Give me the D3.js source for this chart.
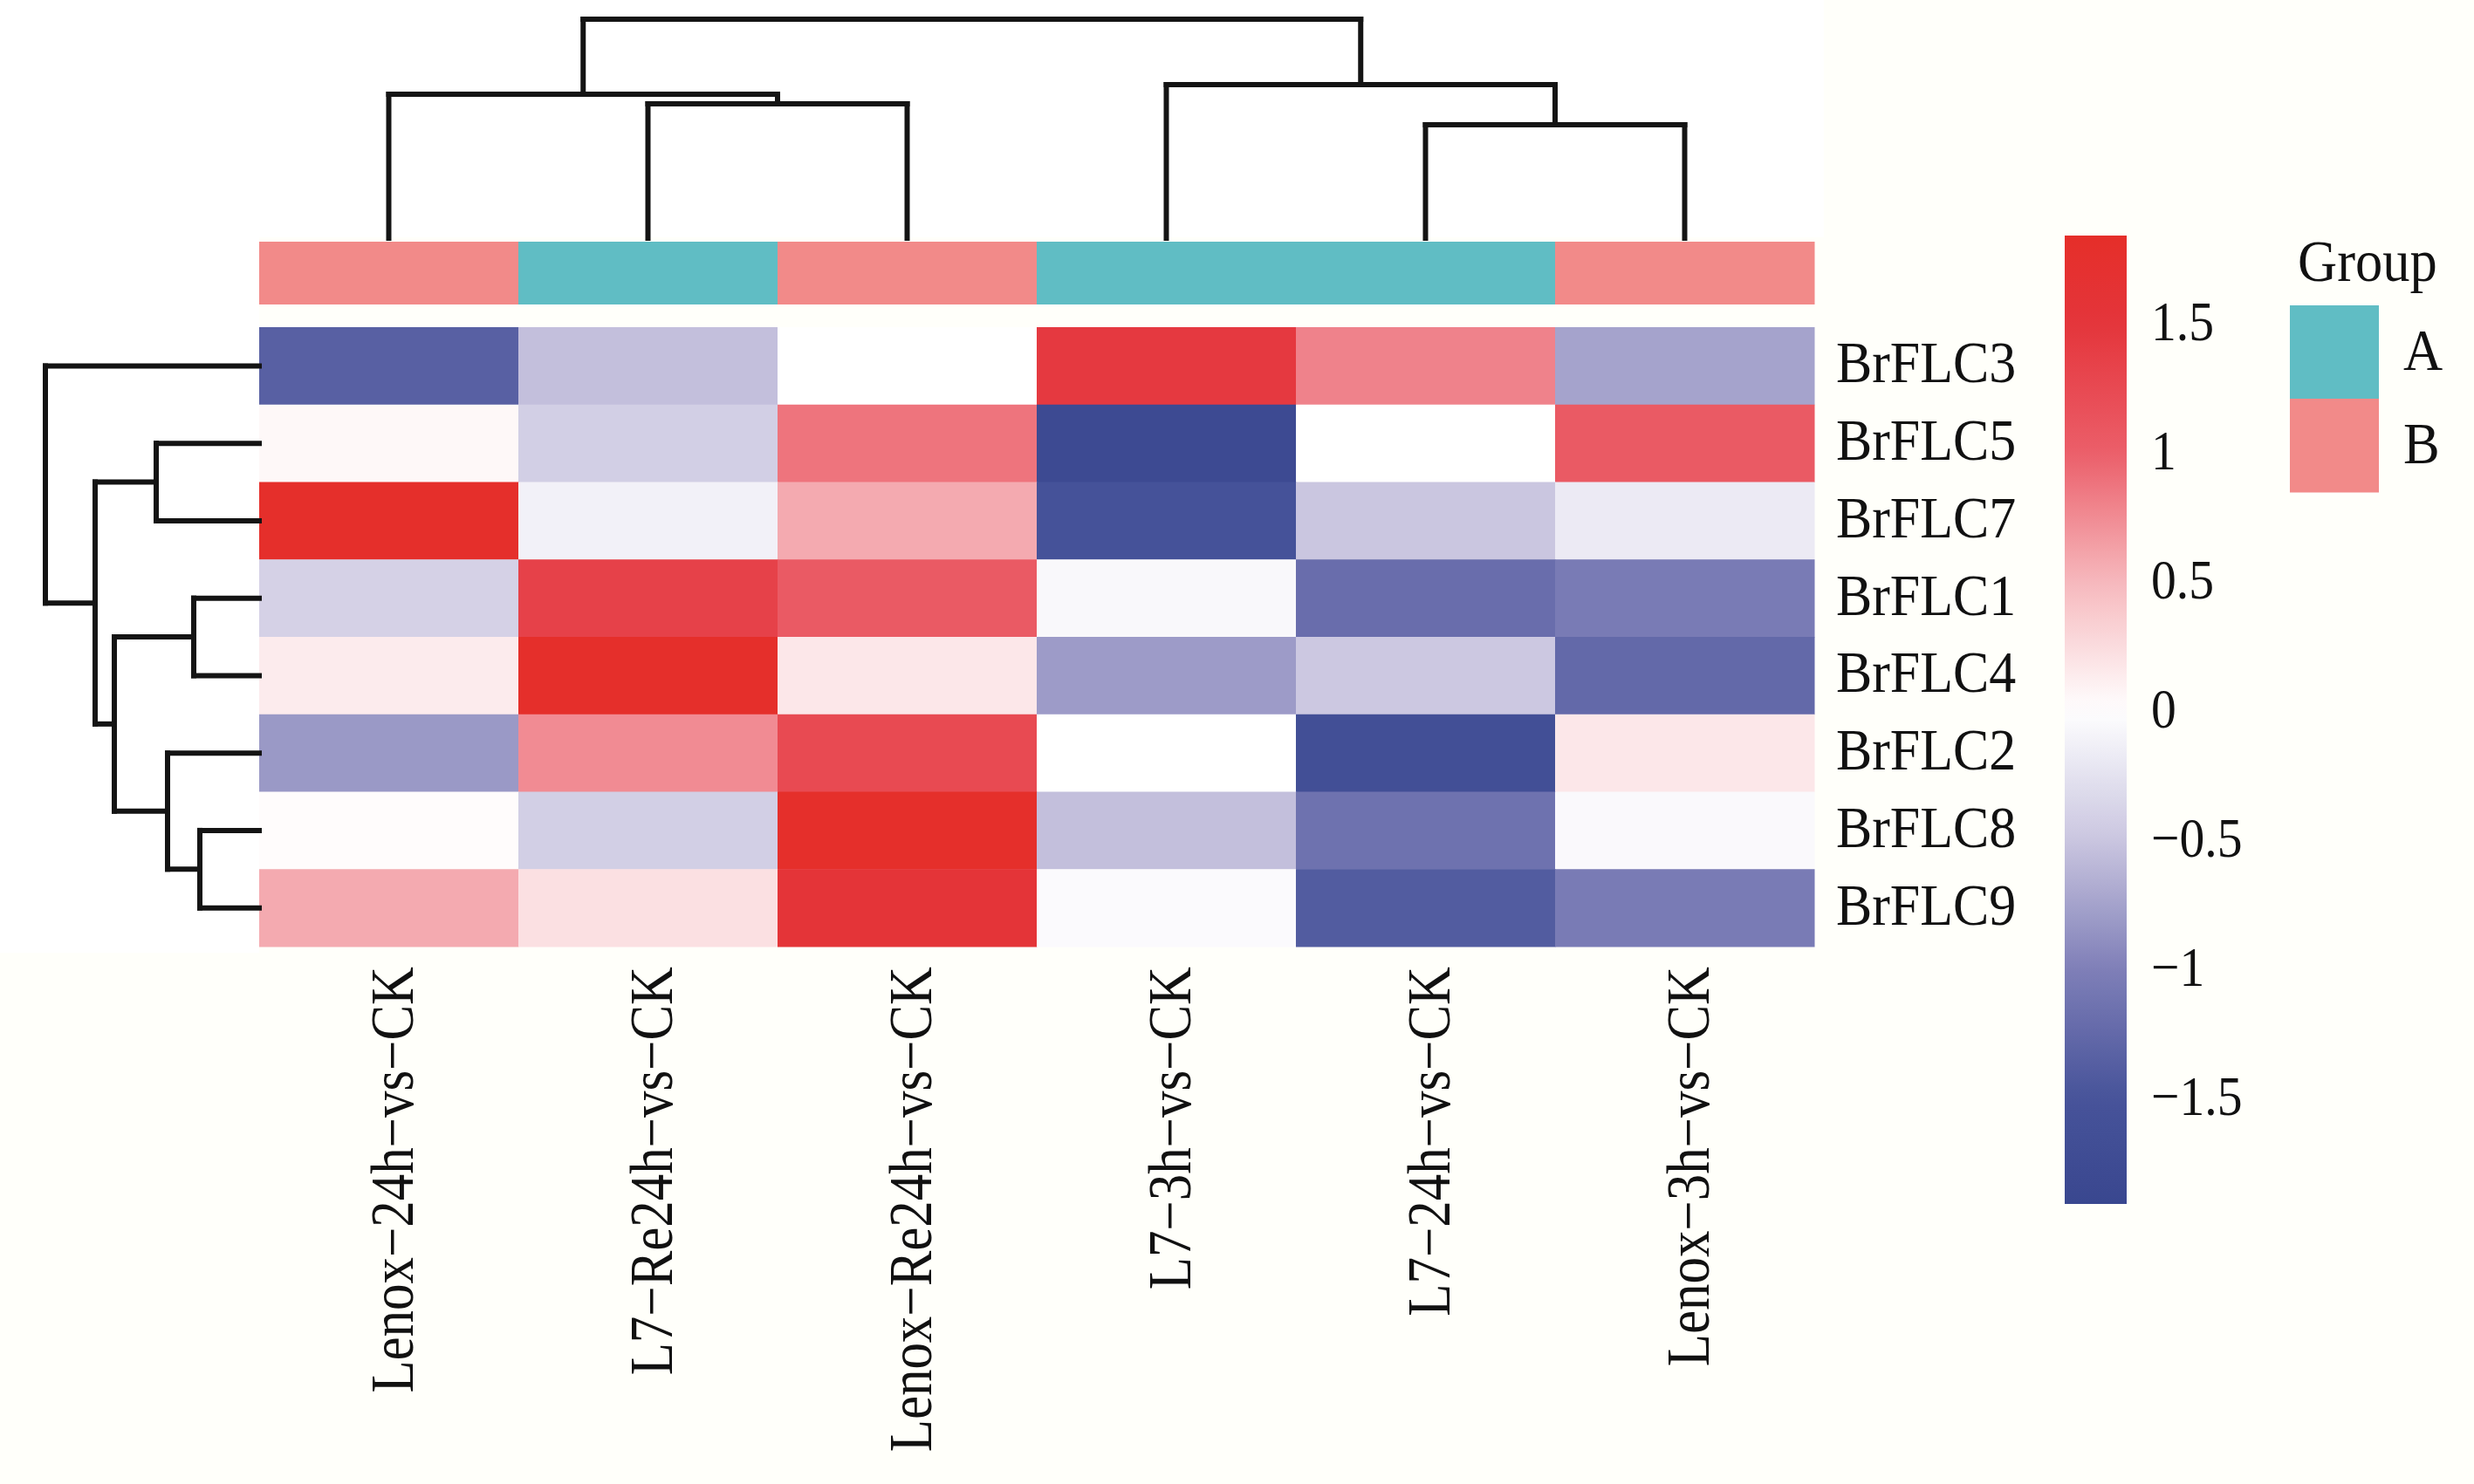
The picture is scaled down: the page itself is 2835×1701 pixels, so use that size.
<!DOCTYPE html>
<html>
<head>
<meta charset="utf-8">
<script src="https://cdn.jsdelivr.net/npm/d3@7/dist/d3.min.js"></script>
<style>
  html, body { margin: 0; padding: 0; background: #fffffa; }
  svg { display: block; }
  text { font-family: "Liberation Serif", "Times New Roman", serif; fill: #111; }
</style>
</head>
<body>
<svg id="chart" width="2835" height="1701"></svg>
<script>
// ---------------- data ----------------
const columns = ["Lenox−24h−vs−CK", "L7−Re24h−vs−CK", "Lenox−Re24h−vs−CK",
                 "L7−3h−vs−CK", "L7−24h−vs−CK", "Lenox−3h−vs−CK"];
const groups = ["B", "A", "B", "A", "A", "B"];
const genes = ["BrFLC3", "BrFLC5", "BrFLC7", "BrFLC1", "BrFLC4", "BrFLC2", "BrFLC8", "BrFLC9"];

// expression z-scores, one array per gene (columns in display order)
const BrFLC3 = [-1.35, -0.55, 0.00, 1.45, 0.80, -0.75];
const BrFLC5 = [0.05, -0.42, 0.88, -1.80, 0.00, 1.05];
const BrFLC7 = [1.80, -0.12, 0.58, -1.55, -0.50, -0.18];
const BrFLC1 = [-0.40, 1.35, 1.05, -0.06, -1.20, -1.05];
const BrFLC4 = [0.14, 1.80, 0.17, -0.80, -0.48, -1.25];
const BrFLC2 = [-0.82, 0.75, 1.25, 0.00, -1.65, 0.17];
const BrFLC8 = [0.02, -0.42, 1.80, -0.55, -1.15, -0.05];
const BrFLC9 = [0.58, 0.22, 1.55, -0.04, -1.40, -1.05];
const values = [BrFLC3, BrFLC5, BrFLC7, BrFLC1, BrFLC4, BrFLC2, BrFLC8, BrFLC9];

// dendrograms (leaf = index, node = {h: merge height, c: [left, right]})
const colTree = {h: 5.02, c: [
  {h: 3.30, c: [0, {h: 3.08, c: [1, 2]}]},
  {h: 3.52, c: [3, {h: 2.60, c: [4, 5]}]}
]};
const rowTree = {h: 4.90, c: [
  0,
  {h: 3.76, c: [
    {h: 2.36, c: [1, 2]},
    {h: 3.32, c: [
      {h: 1.50, c: [3, 4]},
      {h: 2.10, c: [5, {h: 1.36, c: [6, 7]}]}
    ]}
  ]}
]};

const colorTicks = [1.5, 1, 0.5, 0, -0.5, -1, -1.5];
const colorStopValues = [-1.91, -1.5, -1, -0.5, 0, 0.5, 1, 1.5, 1.84];
const colorStopColors = ["#39478f", "#47539a", "#7f7fb8", "#cac6e0", "#ffffff",
                         "#f6b8bd", "#eb5e69", "#e4353b", "#e52e29"];
const groupNames = ["A", "B"];
const groupColors = ["#60bdc4", "#f28a89"];

// ---------------- layout ----------------
const svg = d3.select("#chart");
const W = 2835, H = 1701;

const x = d3.scaleBand().domain(d3.range(columns.length)).range([297, 2079]);
const y = d3.scaleBand().domain(d3.range(genes.length)).range([375, 1085]);
const colH = d3.scaleLinear().domain([0, colTree.h]).range([273, 22]);
const rowH = d3.scaleLinear().domain([0, rowTree.h]).range([297, 52]);
const color = d3.scaleLinear().domain(colorStopValues).range(colorStopColors)
  .interpolate(d3.interpolateRgb).clamp(true);
const groupColor = d3.scaleOrdinal().domain(groupNames).range(groupColors);
const cbar = d3.scaleLinear().domain([colorStopValues[0], colorStopValues[colorStopValues.length - 1]])
  .range([1380, 270]);

svg.append("rect").attr("width", W).attr("height", H).attr("fill", "#fffffa");
svg.append("rect").attr("x", 0).attr("y", 0).attr("width", 2090).attr("height", 272).attr("fill", "#ffffff");
svg.append("rect").attr("x", 0).attr("y", 272).attr("width", 297).attr("height", 820).attr("fill", "#ffffff");

// ---------------- heatmap ----------------
const cells = [];
values.forEach((row, r) => row.forEach((v, c) => cells.push({r, c, v})));
svg.append("g").selectAll("rect").data(cells).join("rect")
  .attr("x", d => x(d.c))
  .attr("y", d => y(d.r))
  .attr("width", x.bandwidth() + 0.5)
  .attr("height", y.bandwidth() + 0.5)
  .attr("fill", d => color(d.v));

// annotation bar
svg.append("g").selectAll("rect").data(groups).join("rect")
  .attr("x", (d, i) => x(i))
  .attr("y", 277)
  .attr("width", x.bandwidth() + 0.5)
  .attr("height", 72)
  .attr("fill", d => groupColor(d));

// ---------------- dendrograms ----------------
function dendro(node, posOf, hScale, vertical) {
  const segs = [];
  function walk(n) {
    if (typeof n === "number") return {p: posOf(n), h: 0};
    const kids = n.c.map(walk);
    const p = (kids[0].p + kids[1].p) / 2;
    kids.forEach(k => segs.push([k.p, hScale(k.h), k.p, hScale(n.h)]));
    segs.push([kids[0].p, hScale(n.h), kids[1].p, hScale(n.h)]);
    return {p, h: n.h};
  }
  walk(node);
  return segs.map(s => vertical ? s : [s[1], s[0], s[3], s[2]]);
}
const colSegs = dendro(colTree, i => x(i) + x.bandwidth() / 2, colH, true);
const rowSegs = dendro(rowTree, i => y(i) + y.bandwidth() / 2, rowH, false);
svg.append("g").attr("stroke", "#141414").attr("stroke-width", 6).attr("stroke-linecap", "square")
  .selectAll("line").data(colSegs.concat(rowSegs)).join("line")
  .attr("x1", d => d[0]).attr("y1", d => d[1])
  .attr("x2", d => d[2]).attr("y2", d => d[3]);

// ---------------- labels ----------------
svg.append("g").selectAll("text").data(genes).join("text")
  .attr("transform", (d, i) => `translate(2104,${y(i) + y.bandwidth() / 2}) scale(0.91,1)`)
  .attr("dy", "0.28em")
  .attr("font-size", 68)
  .text(d => d);

svg.append("g").selectAll("text").data(columns).join("text")
  .attr("transform", (d, i) => `translate(${x(i) + x.bandwidth() / 2 + 3},1108) rotate(-90) scale(0.87,1)`)
  .attr("dy", "0.35em")
  .attr("text-anchor", "end")
  .attr("font-size", 70)
  .text(d => d);

// ---------------- colour bar ----------------
const defs = svg.append("defs");
const grad = defs.append("linearGradient").attr("id", "cbar")
  .attr("x1", 0).attr("y1", 1).attr("x2", 0).attr("y2", 0);
const [v0, v1] = cbar.domain();
grad.selectAll("stop").data(d3.range(0, 1.0001, 0.02)).join("stop")
  .attr("offset", d => d)
  .attr("stop-color", d => color(v0 + d * (v1 - v0)));
svg.append("rect").attr("x", 2366).attr("y", cbar(v1)).attr("width", 71)
  .attr("height", cbar(v0) - cbar(v1)).attr("fill", "url(#cbar)");

svg.append("g").selectAll("text").data(colorTicks).join("text")
  .attr("transform", d => `translate(2465,${cbar(d)}) scale(0.9,1)`)
  .attr("dy", "0.3em")
  .attr("font-size", 64)
  .text(d => String(d).replace("-", "−"));

// ---------------- group legend ----------------
svg.append("text").attr("transform", "translate(2633,322) scale(0.92,1)")
  .attr("font-size", 68).text("Group");
svg.append("g").selectAll("rect").data(groupNames).join("rect")
  .attr("x", 2624).attr("y", (d, i) => 350 + i * 107)
  .attr("width", 102).attr("height", 107.5)
  .attr("fill", d => groupColor(d));
svg.append("g").selectAll("text").data(groupNames).join("text")
  .attr("transform", (d, i) => `translate(2754,${350 + i * 107 + 53.5}) scale(0.92,1)`)
  .attr("dy", "0.3em")
  .attr("font-size", 68)
  .text(d => d);
</script>
</body>
</html>
